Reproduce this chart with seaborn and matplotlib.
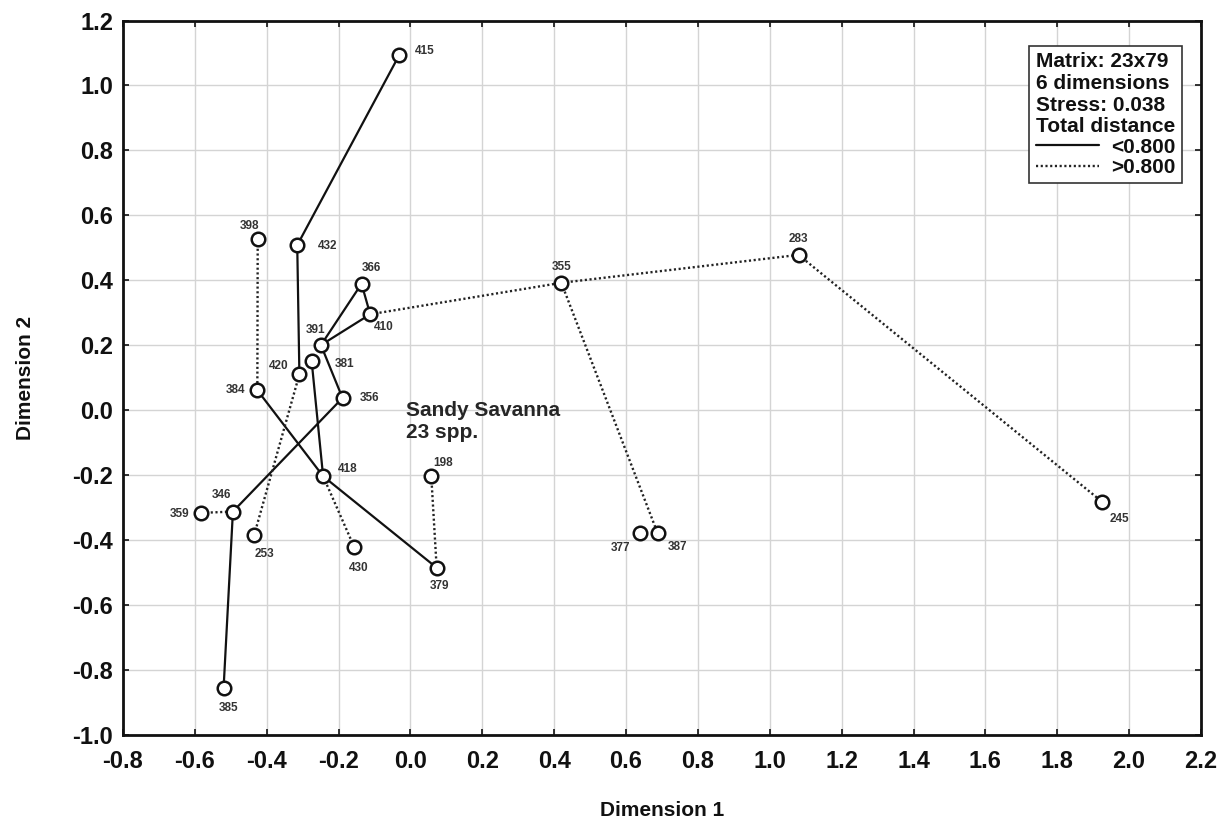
import matplotlib
matplotlib.use("Agg")
import matplotlib.pyplot as plt
import seaborn as sns
import pandas as pd
from matplotlib.lines import Line2D

# ---- data ----
labels = ["415", "432", "398", "366", "410", "391", "381", "420", "384", "356",
          "418", "198", "346", "359", "253", "430", "379", "385", "355", "283",
          "245", "377", "387"]
dim1 = [-0.031, -0.315, -0.425, -0.136, -0.112, -0.249, -0.275, -0.309, -0.426, -0.189,
        -0.243, 0.058, -0.494, -0.582, -0.435, -0.157, 0.073, -0.520, 0.420, 1.080,
        1.925, 0.640, 0.688]
dim2 = [1.094, 0.508, 0.526, 0.389, 0.295, 0.200, 0.152, 0.110, 0.061, 0.037,
        -0.204, -0.204, -0.313, -0.317, -0.386, -0.421, -0.486, -0.858, 0.392, 0.478,
        -0.283, -0.380, -0.380]
edges_short = [("415", "432"), ("432", "420"), ("381", "418"), ("391", "366"),
               ("391", "410"), ("366", "410"), ("391", "356"), ("384", "418"),
               ("418", "379"), ("356", "346"), ("346", "385")]
edges_long = [("398", "384"), ("420", "253"), ("418", "430"), ("198", "379"),
              ("359", "346"), ("410", "355"), ("355", "283"), ("283", "245"),
              ("355", "387")]
info_lines = ["Matrix: 23x79", "6 dimensions", "Stress: 0.038", "Total distance"]
legend_labels = ["<0.800", ">0.800"]
xticks = [-0.8, -0.6, -0.4, -0.2, 0.0, 0.2, 0.4, 0.6, 0.8, 1.0, 1.2, 1.4, 1.6, 1.8, 2.0, 2.2]
yticks = [-1.0, -0.8, -0.6, -0.4, -0.2, 0.0, 0.2, 0.4, 0.6, 0.8, 1.0, 1.2]

df = pd.DataFrame({"label": labels, "Dimension 1": dim1, "Dimension 2": dim2})
pos = {l: (x, y) for l, x, y in zip(labels, dim1, dim2)}

# label offsets in pixels (layout only)
offsets = {
    "415": (16, 4, "left"), "432": (21, -1, "left"), "398": (-8, 13, "center"),
    "366": (10, 16, "center"), "410": (14, -13, "center"), "391": (-5, 15, "center"),
    "381": (23, -3, "left"), "420": (-11, 8, "right"), "384": (-12, 0, "right"),
    "356": (17, 0, "left"), "418": (15, 7, "left"), "198": (12, 13, "center"),
    "346": (-11, 17, "center"), "359": (-12, -1, "right"), "253": (10, -19, "center"),
    "430": (5, -21, "center"), "379": (3, -18, "center"), "385": (5, -20, "center"),
    "355": (0, 16, "center"), "283": (0, 16, "center"), "245": (17, -17, "center"),
    "377": (-20, -15, "center"), "387": (20, -14, "center"),
}

sns.set_theme(style="whitegrid")
plt.rcParams["font.family"] = ["Liberation Sans", "DejaVu Sans"]

fig = plt.figure(figsize=(12.21, 8.23), dpi=100)
ax = fig.add_axes([0.1007, 0.1075, 0.8829, 0.8675])
ax.set_facecolor("white")

for a, b in edges_short:
    ax.plot([pos[a][0], pos[b][0]], [pos[a][1], pos[b][1]], color="#111111",
            lw=1.6, solid_capstyle="butt", zorder=2)
for a, b in edges_long:
    ax.plot([pos[a][0], pos[b][0]], [pos[a][1], pos[b][1]], color="#222222",
            lw=1.7, linestyle=(0, (0.9, 1.1)), zorder=2)

sns.scatterplot(data=df, x="Dimension 1", y="Dimension 2", ax=ax, s=95,
                facecolor="white", edgecolor="#111111", linewidth=1.8, zorder=3,
                legend=False)

for l in labels:
    dx, dy, ha = offsets[l]
    ax.annotate(l, pos[l], xytext=(dx, dy), textcoords="offset pixels",
                ha=ha, va="center", fontsize=8.5, fontweight="bold", color="#333333",
                zorder=4)

ax.text(-0.012, 0.028, "Sandy Savanna\n23 spp.", ha="left", va="top",
        fontsize=15, fontweight="bold", color="#262626", linespacing=1.2)

ax.set_xlim(-0.8, 2.2)
ax.set_ylim(-1.0, 1.2)
ax.set_xticks(xticks)
ax.set_yticks(yticks)
ax.set_xticklabels([f"{t:.1f}" for t in xticks])
ax.set_yticklabels([f"{t:.1f}" for t in yticks])
ax.grid(True, color="#d4d4d4", lw=1.0)
for sp in ax.spines.values():
    sp.set_color("#111111")
    sp.set_linewidth(2.0)
ax.tick_params(direction="in", length=4, width=1.2, color="#111111",
               top=True, right=True, bottom=True, left=True,
               labelsize=17, labelcolor="#111111")
ax.tick_params(axis="y", pad=7)
ax.tick_params(axis="x", pad=11)
for t in ax.get_xticklabels() + ax.get_yticklabels():
    t.set_fontweight("bold")
ax.set_xlabel("Dimension 1", fontsize=15, fontweight="bold", color="#111111", labelpad=20)
ax.set_ylabel("Dimension 2", fontsize=15, fontweight="bold", color="#111111", labelpad=27)

handles = [Line2D([], [], color="#111111", lw=1.6),
           Line2D([], [], color="#222222", lw=1.7, linestyle=(0, (0.9, 1.1)))]
leg = ax.legend(handles, legend_labels, title="\n".join(info_lines),
                loc="upper right", bbox_to_anchor=(0.9825, 0.965),
                frameon=True, fancybox=False, framealpha=1, edgecolor="#333333",
                prop={"weight": "bold", "size": 15},
                title_fontproperties={"weight": "bold", "size": 15},
                alignment="left", handlelength=3.0, handletextpad=0.6,
                labelspacing=0.06, borderpad=0.32, borderaxespad=0)
leg.get_frame().set_linewidth(1.2)
for t in leg.get_texts():
    t.set_color("#111111")
leg.get_title().set_color("#111111")
leg.get_title().set_linespacing(1.18)

fig.savefig("out.png", dpi=100, facecolor="white")
